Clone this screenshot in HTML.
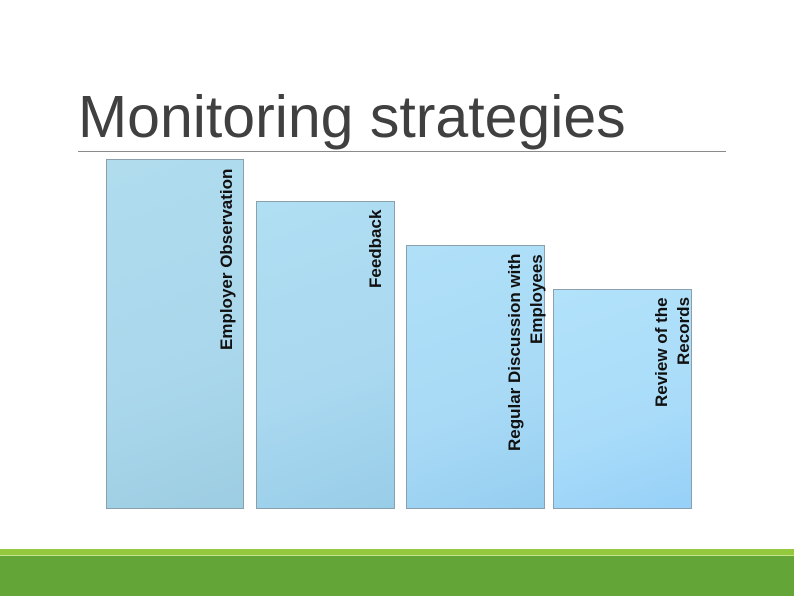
<!DOCTYPE html>
<html><head><style>
body{margin:0;width:794px;height:596px;background:#fff;position:relative;overflow:hidden;font-family:"Liberation Sans",sans-serif}
.t{position:absolute;left:78px;top:82px;font-size:59px;color:#404040;line-height:70px;white-space:nowrap}
.hr{position:absolute;left:78px;top:151px;width:648px;height:1px;background:#8a8a8a}
.b{position:absolute;box-sizing:border-box;border:1px solid #8aa0ad}
.l{position:absolute;writing-mode:vertical-rl;transform:rotate(180deg);text-align:end;font-weight:bold;font-size:17px;line-height:22px;color:#111;white-space:nowrap}
.g1{position:absolute;left:0;top:549px;width:794px;height:6px;background:#93c83f}
.g2{position:absolute;left:0;top:555px;width:794px;height:1px;background:#c6e48a}
.g3{position:absolute;left:0;top:556px;width:794px;height:40px;background:#64a537}
</style></head><body>
<div class="t">Monitoring strategies</div>
<div class="hr"></div>
<div class="b" style="left:106px;top:159px;width:138px;height:350px;background:linear-gradient(160deg,#b0dcee 0%,#aad7ec 60%,#9dcde2 100%)"></div>
<div class="b" style="left:256px;top:201px;width:139px;height:308px;background:linear-gradient(160deg,#b0def2 0%,#a9d8f0 60%,#98cde8 100%)"></div>
<div class="b" style="left:406px;top:245px;width:139px;height:264px;background:linear-gradient(160deg,#b0e0f8 0%,#a8daf6 60%,#96cef0 100%)"></div>
<div class="b" style="left:553px;top:289px;width:139px;height:220px;background:linear-gradient(160deg,#b2e2fa 0%,#a9dcf9 60%,#96d0f8 100%)"></div>
<div class="l" style="left:216px;top:169px;width:22px;height:330px">Employer Observation</div>
<div class="l" style="left:365px;top:210px;width:22px;height:290px">Feedback</div>
<div class="l" style="left:504px;top:254px;width:44px;height:250px">Regular Discussion with<br>Employees</div>
<div class="l" style="left:651px;top:297px;width:44px;height:205px">Review of the<br>Records</div>
<div class="g1"></div><div class="g2"></div><div class="g3"></div>
</body></html>
